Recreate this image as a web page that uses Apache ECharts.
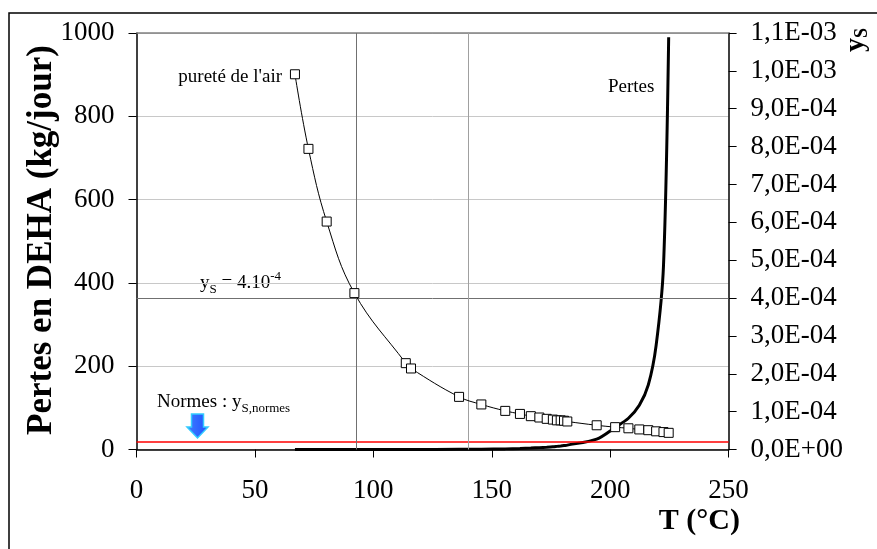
<!DOCTYPE html>
<html><head><meta charset="utf-8">
<script src="https://cdn.jsdelivr.net/npm/echarts@6/dist/echarts.min.js"></script>
<style>html,body{margin:0;padding:0;background:#fff}#c{width:877px;height:549px}</style>
</head><body><div id="c"></div>
<script>
// Temperatures (°C)
const temperatures = [66.9,72.6,80.3,92.0,113.7,115.9,136.2,145.6,155.7,161.9,166.5,170.1,173.2,175.8,177.5,179.1,180.5,181.9,194.3,202.1,207.7,212.3,216.1,219.4,222.5,224.7];
// ys (right axis) – pureté de l'air
const ysValues = [9.91e-4,7.94e-4,6.02e-4,4.13e-4,2.28e-4,2.14e-4,1.39e-4,1.19e-4,1.02e-4,9.4e-5,8.8e-5,8.45e-5,8.1e-5,7.9e-5,7.7e-5,7.7e-5,7.6e-5,7.4e-5,6.4e-5,5.9e-5,5.6e-5,5.3e-5,5.1e-5,4.8e-5,4.6e-5,4.4e-5];
// Pertes en DEHA (kg/jour, left axis)
const pertesValues = [0,0,0,0,0.1,0.1,0.5,0.8,1.5,2.5,3.5,4.5,5.5,6.5,7.5,8.5,9.5,10.5,25,53,75,106,155,250,440,990];
// Reference lines
const ysTarget = 4e-4;
const ysNorme = 2e-5;
const verticalRefs = [92.7, 140];
// Axis ranges
const xRange = [0, 250, 50];
const leftRange = [0, 1000, 200];
const rightRange = [0, 0.0011, 0.0001];

const SERIF = '"Liberation Serif","Times New Roman",serif';
const toLeft = v => v * (leftRange[1] - leftRange[0]) / (rightRange[1] - rightRange[0]);

function sci(v) {
  if (Math.abs(v) < 1e-12) return '0,0E+00';
  let e = Math.floor(Math.log10(v) + 1e-9);
  let m = v / Math.pow(10, e);
  m = Math.round(m * 10) / 10;
  if (m >= 10) { m = m / 10; e += 1; }
  const sign = e < 0 ? '-' : '+';
  const ae = Math.abs(e);
  return m.toFixed(1).replace('.', ',') + 'E' + sign + (ae < 10 ? '0' : '') + ae;
}

const chart = echarts.init(document.getElementById('c'), null, {renderer: 'canvas'});
const tickFont = {fontFamily: SERIF, fontSize: 27, color: '#000'};

chart.setOption({
  animation: false,
  backgroundColor: '#fff',
  grid: {left: 136.5, right: 148.4, top: 33, bottom: 99.5},
  xAxis: {
    type: 'value', min: xRange[0], max: xRange[1], interval: xRange[2],
    axisLine: {show: true, onZero: false, lineStyle: {color: '#000', width: 1.5}},
    axisTick: {show: true, length: 8, lineStyle: {color: '#000'}},
    axisLabel: Object.assign({margin: 28, formatter: v => String(v)}, tickFont),
    splitLine: {show: false}
  },
  yAxis: [{
    type: 'value', min: leftRange[0], max: leftRange[1], interval: leftRange[2],
    axisLine: {show: true, lineStyle: {color: '#000', width: 1.5}},
    axisTick: {show: true, length: 8, lineStyle: {color: '#000'}},
    axisLabel: Object.assign({margin: 22, formatter: v => String(v)}, tickFont),
    splitLine: {show: true, lineStyle: {color: '#c8c8c8', width: 1}}
  }, {
    type: 'value', position: 'right', min: rightRange[0], max: rightRange[1], interval: rightRange[2],
    axisLine: {show: true, lineStyle: {color: '#000', width: 1.5}},
    axisTick: {show: true, length: 8, lineStyle: {color: '#000'}},
    axisLabel: Object.assign({margin: 22, formatter: sci}, tickFont),
    splitLine: {show: false}
  }],
  series: [{
    name: 'Pertes', type: 'line', yAxisIndex: 0,
    data: temperatures.map((t, i) => [t, pertesValues[i]]),
    smooth: 0.3, showSymbol: false, symbol: 'none',
    lineStyle: {color: '#000', width: 3}, z: 4,
    markLine: {
      silent: true, symbol: 'none', label: {show: false},
      data: [
        {yAxis: leftRange[1], lineStyle: {color: '#808080', width: 1.5, type: 'solid'}},
        {yAxis: toLeft(ysTarget), lineStyle: {color: '#707070', width: 1, type: 'solid'}},
        {yAxis: toLeft(ysNorme), lineStyle: {color: '#ff0000', width: 1.5, type: 'solid'}},
        {xAxis: verticalRefs[0], lineStyle: {color: '#707070', width: 1, type: 'solid'}},
        {xAxis: verticalRefs[1], lineStyle: {color: '#a0a0a0', width: 1, type: 'solid'}}
      ]
    }
  }, {
    name: 'ys', type: 'line', yAxisIndex: 1,
    data: temperatures.map((t, i) => [t, ysValues[i]]),
    smooth: 0.4, symbol: 'rect', symbolSize: 9,
    itemStyle: {color: '#fff', borderColor: '#000', borderWidth: 1},
    lineStyle: {color: '#000', width: 1}, z: 5
  }],
  graphic: [
    {type: 'rect', shape: {x: 9, y: 13, width: 900, height: 600}, style: {fill: 'none', stroke: '#000', lineWidth: 1.5}, silent: true},
    {type: 'text', x: 42, y: 240, rotation: Math.PI / 2, style: {text: 'Pertes en DEHA (kg/jour)', font: 'bold 35px ' + SERIF, fill: '#000', align: 'center', verticalAlign: 'middle'}},
    {type: 'text', x: 740, y: 521, style: {text: 'T (°C)', font: 'bold 30px ' + SERIF, fill: '#000', align: 'right', verticalAlign: 'middle'}},
    {type: 'text', x: 856, y: 40, rotation: Math.PI / 2, style: {
      text: '{a|y}{b|S}', align: 'center', verticalAlign: 'middle',
      rich: {a: {font: 'bold 28px ' + SERIF, fill: '#000', lineHeight: 30, verticalAlign: 'middle'}, b: {font: 'bold 18px ' + SERIF, fill: '#000', lineHeight: 18, verticalAlign: 'bottom'}}
    }},
    {type: 'text', x: 282, y: 77, style: {text: "pureté de l'air", font: '19px ' + SERIF, fill: '#000', align: 'right', verticalAlign: 'middle'}},
    {type: 'text', x: 608, y: 87, style: {text: 'Pertes', font: '19px ' + SERIF, fill: '#000', align: 'left', verticalAlign: 'middle'}},
    {type: 'text', x: 200, y: 283, style: {
      text: '{m|y}{s|S}{m| = 4.10}{p|-4}', align: 'left', verticalAlign: 'middle',
      rich: {m: {font: '19px ' + SERIF, fill: '#000', lineHeight: 26, verticalAlign: 'middle'}, s: {font: '13px ' + SERIF, fill: '#000', lineHeight: 14, verticalAlign: 'bottom'}, p: {font: '13px ' + SERIF, fill: '#000', lineHeight: 14, verticalAlign: 'top'}}
    }},
    {type: 'text', x: 157, y: 402, style: {
      text: '{m|Normes : y}{s|S,normes}', align: 'left', verticalAlign: 'middle',
      rich: {m: {font: '19px ' + SERIF, fill: '#000', lineHeight: 26, verticalAlign: 'middle'}, s: {font: '13px ' + SERIF, fill: '#000', lineHeight: 14, verticalAlign: 'bottom'}}
    }},
    {type: 'polygon', shape: {points: [[191.5, 414], [203.5, 414], [203.5, 427], [208, 427], [197.5, 438], [187, 427], [191.5, 427]]},
      style: {fill: {type: 'linear', x: 0, y: 0, x2: 1, y2: 0, colorStops: [{offset: 0, color: '#3f7fff'}, {offset: 1, color: '#1f4fff'}]}, stroke: '#33ccff', lineWidth: 1.5}, silent: true}
  ]
});
</script>
</body></html>
